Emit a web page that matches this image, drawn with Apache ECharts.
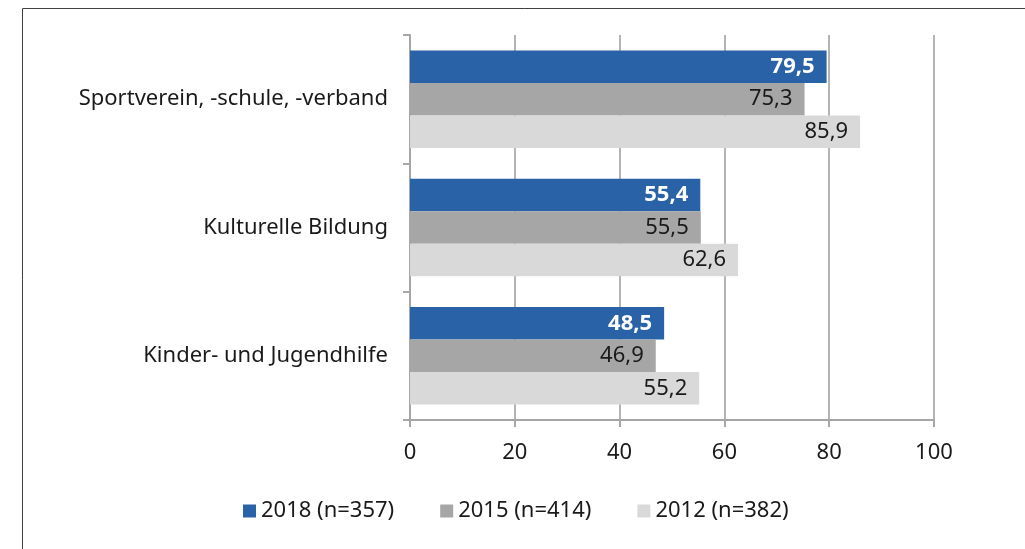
<!DOCTYPE html>
<html>
<head>
<meta charset="utf-8">
<script src="https://cdn.jsdelivr.net/npm/echarts@6/dist/echarts.min.js"></script>
<style>
  html, body { margin: 0; padding: 0; background: #fff; }
  #chart { width: 1025px; height: 549px; }
</style>
</head>
<body>
<div id="chart"></div>
<script>
const categories = ['Sportverein, -schule, -verband', 'Kulturelle Bildung', 'Kinder- und Jugendhilfe']
const seriesNames = ['2018 (n=357)', '2015 (n=414)', '2012 (n=382)']
const values2018 = [79.5, 55.4, 48.5]
const values2015 = [75.3, 55.5, 46.9]
const values2012 = [85.9, 62.6, 55.2]
const xTicks = [0, 20, 40, 60, 80, 100]

const colors = ['#2a62a8', '#a6a6a6', '#d9d9d9']
const font = 'Noto Sans'
const fs = 22

function fmt(v) {
  return v.toFixed(1).replace('.', ',')
}

function makeSeries(name, data, idx) {
  return {
    name,
    type: 'bar',
    data,
    barGap: '0%',
    barCategoryGap: '24%',
    itemStyle: { color: colors[idx] },
    label: {
      show: true,
      position: 'insideRight',
      distance: 12,
      formatter: (p) => fmt(p.value),
      fontFamily: font,
      fontSize: fs,
      color: idx === 0 ? '#ffffff' : '#1a1a1a',
      fontWeight: idx === 0 ? 'bold' : 'normal',
    },
  }
}

const chart = echarts.init(document.getElementById('chart'))
chart.setOption({
  animation: false,
  textStyle: { fontFamily: font },
  graphic: [
    {
      type: 'rect',
      shape: { x: 22.5, y: 8.5, width: 1100, height: 700 },
      style: { fill: 'none', stroke: '#404040', lineWidth: 1 },
      silent: true,
    },
  ],
  legend: {
    bottom: 22,
    left: 238,
    itemWidth: 13,
    itemHeight: 13,
    itemGap: 46,
    icon: 'rect',
    textStyle: { fontFamily: font, fontSize: fs, color: '#1a1a1a' },
    data: seriesNames,
  },
  grid: { left: 410, right: 91, top: 35, bottom: 129 },
  xAxis: {
    type: 'value',
    min: 0,
    max: 100,
    interval: 20,
    axisLine: { show: true, lineStyle: { color: '#a6a6a6', width: 2 } },
    axisTick: { show: true, length: 7, lineStyle: { color: '#a6a6a6', width: 2 } },
    splitLine: { show: true, lineStyle: { color: '#b4b4b4', width: 2 } },
    axisLabel: {
      fontFamily: font,
      fontSize: fs,
      color: '#1a1a1a',
      margin: 22,
      formatter: (v) => (xTicks.includes(v) ? String(v) : ''),
    },
  },
  yAxis: {
    type: 'category',
    data: categories,
    inverse: true,
    axisLine: { show: true, lineStyle: { color: '#a6a6a6', width: 2 } },
    axisTick: { show: true, length: 7, lineStyle: { color: '#a6a6a6', width: 2 } },
    axisLabel: { fontFamily: font, fontSize: fs, color: '#1a1a1a', margin: 22 },
  },
  series: [
    makeSeries(seriesNames[0], values2018, 0),
    makeSeries(seriesNames[1], values2015, 1),
    makeSeries(seriesNames[2], values2012, 2),
  ],
})
</script>
</body>
</html>
